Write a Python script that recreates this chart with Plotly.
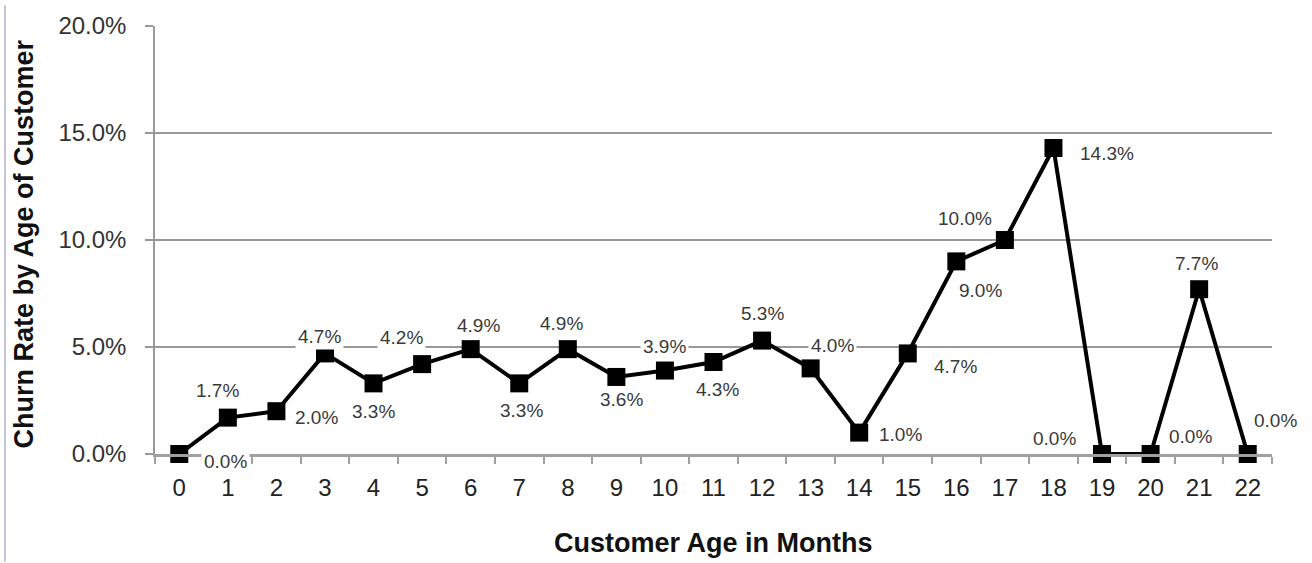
import plotly.graph_objects as go

# ---- data ----
months = [str(i) for i in range(23)]
churn_pct = [0.0, 1.7, 2.0, 4.7, 3.3, 4.2, 4.9, 3.3, 4.9, 3.6, 3.9, 4.3, 5.3,
             4.0, 1.0, 4.7, 9.0, 10.0, 14.3, 0.0, 0.0, 7.7, 0.0]
y_tick_vals = [0, 5, 10, 15, 20]
y_tick_text = ["0.0%", "5.0%", "10.0%", "15.0%", "20.0%"]
x_title = "Customer Age in Months"
y_title = "Churn Rate by Age of Customer"

# ---- label offsets (pixels: dx right, dy down) ----
label_dx = [46, -10, 40, -5, 0, -21, 8, 2, -6, 5, 0, 4, 0, 22, 41, 48, 24, -40, 54, -48, 40, -3, 28]
label_dy = [7, -27, 6, -17, 28, -27, -24, 27, -26, 23, -24, 28, -27, -23, 2, 13, 29, -22, 6, -16, -18, -26, -34]

W, H = 1312, 563
ML, MR, MT, MB = 155, 40, 21, 109
PW, PH = W - ML - MR, H - MT - MB
FONT = "Arial, Liberation Sans, sans-serif"

fig = go.Figure()
fig.add_trace(go.Scatter(
    x=months, y=churn_pct, mode="lines+markers",
    line=dict(color="black", width=4),
    marker=dict(symbol="square", size=18, color="black"),
    cliponaxis=False, showlegend=False, hoverinfo="x+y",
))

annotations = []
for m, v, dx, dy in zip(months, churn_pct, label_dx, label_dy):
    annotations.append(dict(
        x=m, y=v, xref="x", yref="y", text=f"{v:.1f}%", showarrow=False,
        xshift=dx, yshift=-dy, bgcolor="white", borderpad=2,
        font=dict(family=FONT, size=19, color="#3a3a3a"),
        xanchor="center", yanchor="middle",
    ))

# axis titles
annotations.append(dict(
    x=(713 - ML) / PW, y=(MT + PH - 544) / PH, xref="paper", yref="paper",
    text=f"<b>{x_title}</b>", showarrow=False, xanchor="center", yanchor="middle",
    font=dict(family=FONT, size=27, color="#111"),
))
annotations.append(dict(
    x=(24 - ML) / PW, y=(MT + PH - 242) / PH, xref="paper", yref="paper",
    text=f"<b>{y_title}</b>", showarrow=False, xanchor="center", yanchor="middle",
    textangle=-90, font=dict(family=FONT, size=27, color="#111"),
))

fig.update_layout(
    width=W, height=H, autosize=False,
    margin=dict(l=ML, r=MR, t=MT, b=MB, pad=0),
    paper_bgcolor="white", plot_bgcolor="white",
    annotations=annotations,
    shapes=[dict(
        type="line", xref="paper", yref="paper",
        x0=(5 - ML) / PW, x1=(5 - ML) / PW,
        y0=(MT + PH - H) / PH, y1=(MT + PH) / PH,
        line=dict(color="#c3c6d9", width=2),
    )],
    xaxis=dict(
        type="category", range=[-0.5, 22.5], tickson="boundaries",
        ticks="outside", ticklen=7, tickwidth=1.5, tickcolor="#a0a0a0",
        showline=True, linecolor="#a0a0a0", linewidth=3,
        showgrid=False, zeroline=False,
        tickfont=dict(family=FONT, size=24, color="#222"),
        ticklabelstandoff=10,
    ),
    yaxis=dict(
        range=[0, 20], tickvals=y_tick_vals, ticktext=y_tick_text,
        ticks="outside", ticklen=8, tickwidth=1.5, tickcolor="#999999",
        showgrid=True, gridcolor="#999999", gridwidth=1.5,
        showline=True, linecolor="#999999", linewidth=1.5,
        zeroline=False,
        tickfont=dict(family=FONT, size=24, color="#333"),
        ticklabelstandoff=14,
    ),
)

fig.write_html("out.html")
